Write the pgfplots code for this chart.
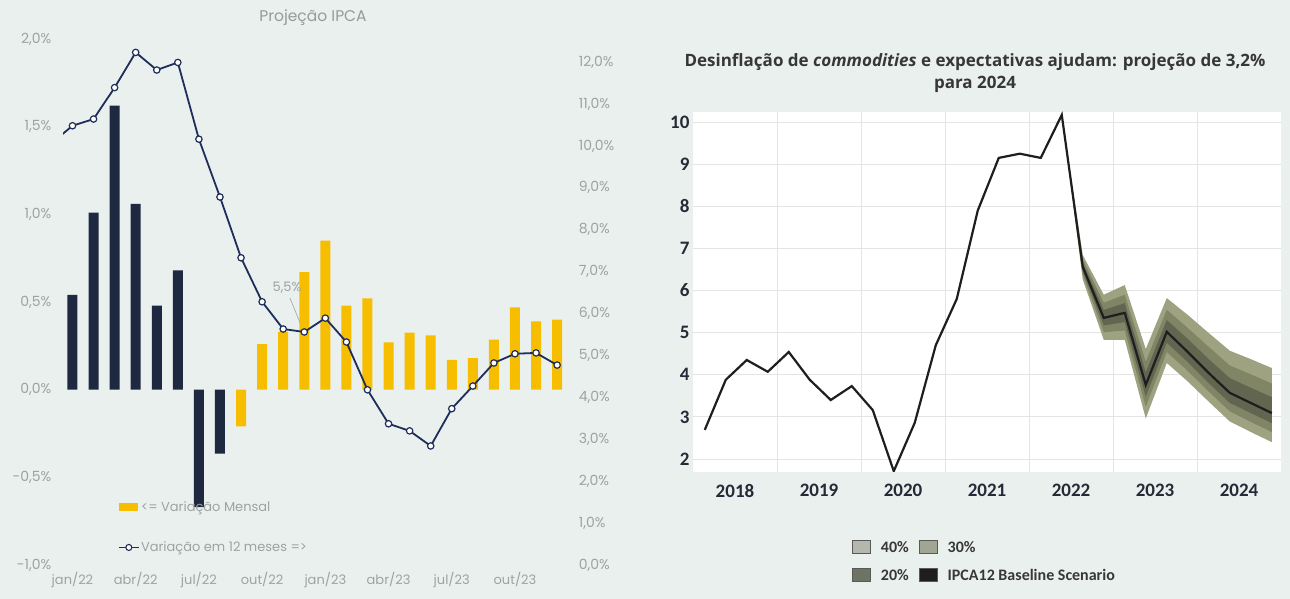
\documentclass[border=0pt]{standalone}
\usepackage{pgfplots}
\pgfplotsset{compat=1.18}
\usepackage{pgfplotstable}
\usepackage{fontspec}
\setmainfont{Poppins}
\newfontfamily\carlito{Carlito}
\newfontfamily\opensans{Open Sans}

\definecolor{bg}{RGB}{234,240,237}
\definecolor{navybar}{RGB}{30,40,65}
\definecolor{yel}{RGB}{247,190,0}
\definecolor{navyline}{RGB}{30,45,90}
\definecolor{tickgray}{RGB}{160,162,160}
\definecolor{c40}{RGB}{158,162,128}
\definecolor{c30}{RGB}{128,133,102}
\definecolor{c20}{RGB}{98,102,80}
\definecolor{lg40}{RGB}{180,183,172}
\definecolor{lg30}{RGB}{160,165,148}
\definecolor{lg20}{RGB}{110,116,100}
\definecolor{lgline}{RGB}{30,30,30}
\definecolor{gridc}{RGB}{226,230,226}
\definecolor{titlec}{RGB}{55,55,55}
\definecolor{darktick}{RGB}{40,40,55}

\pgfplotstableread{
x y
0 0.54
1 1.01
2 1.62
3 1.06
4 0.48
5 0.68
6 -0.67
7 -0.365
}\mensalA
\pgfplotstableread{
x y
8 -0.21
9 0.26
10 0.33
11 0.67
12 0.85
13 0.48
14 0.52
15 0.27
16 0.325
17 0.31
18 0.17
19 0.18
20 0.285
21 0.47
22 0.39
23 0.40
}\mensalB
\pgfplotstableread{
x y
-1 10.06
0 10.48
1 10.64
2 11.39
3 12.23
4 11.81
5 11.99
6 10.16
7 8.78
8 7.33
9 6.28
10 5.63
11 5.56
12 5.89
13 5.32
14 4.18
15 3.37
16 3.20
17 2.84
18 3.73
19 4.27
20 4.82
21 5.04
22 5.06
23 4.77
}\doze
\pgfplotstableread{
x y
2018.14 2.69
2018.39 3.88
2018.64 4.35
2018.89 4.07
2019.14 4.54
2019.39 3.88
2019.64 3.40
2019.89 3.73
2020.14 3.16
2020.39 1.71
2020.64 2.86
2020.89 4.70
2021.14 5.80
2021.39 7.90
2021.64 9.15
2021.89 9.25
2022.14 9.15
2022.39 10.17
2022.64 6.56
2022.89 5.35
2023.14 5.47
2023.39 3.76
2023.64 5.02
2023.89 4.54
2024.14 4.04
2024.39 3.57
2024.64 3.33
2024.89 3.09
}\ipca
% fan bands: upper bound forward, then lower bound back
\pgfplotstableread{
x y
2022.39 10.17
2022.64 6.84
2022.89 5.90
2023.14 6.13
2023.39 4.61
2023.64 5.82
2023.89 5.42
2024.14 4.99
2024.39 4.57
2024.64 4.37
2024.89 4.16
2024.89 2.40
2024.64 2.64
2024.39 2.89
2024.14 3.36
2023.89 3.84
2023.64 4.28
2023.39 2.96
2023.14 4.83
2022.89 4.83
2022.64 6.26
}\fanA
\pgfplotstableread{
x y
2022.39 10.17
2022.64 6.74
2022.89 5.71
2023.14 5.90
2023.39 4.31
2023.64 5.54
2023.89 5.11
2024.14 4.66
2024.39 4.22
2024.64 4.01
2024.89 3.79
2024.89 2.64
2024.64 2.88
2024.39 3.13
2024.14 3.60
2023.89 4.09
2023.64 4.54
2023.39 3.24
2023.14 5.05
2022.89 5.01
2022.64 6.37
}\fanB
\pgfplotstableread{
x y
2022.39 10.17
2022.64 6.66
2022.89 5.54
2023.14 5.70
2023.39 4.06
2023.64 5.30
2023.89 4.85
2024.14 4.37
2024.39 3.92
2024.64 3.69
2024.89 3.47
2024.89 2.85
2024.64 3.09
2024.39 3.33
2024.14 3.80
2023.89 4.30
2023.64 4.76
2023.39 3.48
2023.14 5.25
2022.89 5.17
2022.64 6.46
}\fanC

\begin{document}
\begin{tikzpicture}
\useasboundingbox (0pt,0pt) rectangle (1290pt,599pt);
\fill[bg] (0pt,0pt) rectangle (1290pt,599pt);

% ---------- left chart: monthly bars ----------
\begin{axis}[
  at={(63pt,34pt)}, anchor=south west,
  scale only axis, width=503.6pt, height=526pt,
  xmin=-0.45, xmax=23.45, ymin=-1, ymax=2,
  axis line style={draw=none}, tick style={draw=none},
  xtick={0,3,6,9,12,15,18,21},
  xticklabels={jan/22,abr/22,jul/22,out/22,jan/23,abr/23,jul/23,out/23},
  ytick={-1,-0.5,0,0.5,1,1.5,2},
  yticklabels={{-1,0\%},{-0,5\%},{0,0\%},{0,5\%},{1,0\%},{1,5\%},{2,0\%}},
  ticklabel style={text=tickgray},
  yticklabel style={font=\fontsize{14}{16}\selectfont, xshift=-8.2pt},
  xticklabel style={font=\fontsize{13}{15}\selectfont, yshift=-4pt},
]
\addplot[ybar, bar width=10pt, bar shift=0pt, fill=navybar, draw=none] table {\mensalA};
\addplot[ybar, bar width=10pt, bar shift=0pt, fill=yel, draw=none] table {\mensalB};
\end{axis}

% ---------- left chart: 12-month line ----------
\begin{axis}[
  at={(63pt,34pt)}, anchor=south west,
  scale only axis, width=503.6pt, height=526pt,
  xmin=-0.45, xmax=23.45, ymin=0, ymax=12.55,
  axis line style={draw=none}, tick style={draw=none},
  xtick=\empty,
  yticklabel pos=right,
  ytick={0,1,2,3,4,5,6,7,8,9,10,11,12},
  yticklabels={{0,0\%},{1,0\%},{2,0\%},{3,0\%},{4,0\%},{5,0\%},{6,0\%},{7,0\%},{8,0\%},{9,0\%},{10,0\%},{11,0\%},{12,0\%}},
  ticklabel style={font=\fontsize{14}{16}\selectfont, text=tickgray},
  yticklabel style={xshift=8.7pt},
  legend style={at={(0.103,0.128)}, anchor=north west, draw=none, fill=none,
    font=\fontsize{13}{15}\selectfont, text=tickgray, row sep=26pt,
    nodes={inner sep=1.5pt}},
  legend cell align=left,
]
\addlegendimage{legend image code/.code={\fill[yel] (0pt,-3.5pt) rectangle (18pt,3.5pt);}}
\addlegendentry{<= Variação Mensal}
\addlegendimage{legend image code/.code={\draw[navyline, line width=1.5pt] (0pt,0pt) -- (20pt,0pt); \draw[navyline, fill=white, line width=1.1pt] (10pt,0pt) circle (3pt);}}
\addlegendentry{Variação em 12 meses =>}
\addplot[navyline, line width=1.8pt, forget plot] table {\doze};
\addplot[only marks, mark=*, mark size=3.2pt, restrict x to domain=0:23,
  mark options={fill=white, draw=navyline, line width=1.2pt}, forget plot] table {\doze};
\node[font=\fontsize{13}{15}\selectfont, text=tickgray] at (axis cs:10.18,6.61) {5,5\%};
\draw[tickgray, line width=0.6pt] (axis cs:10.32,6.37) -- (axis cs:10.8,5.78);
\end{axis}

\node[font=\fontsize{15.5}{18}\selectfont, text=tickgray!95!black] at (313pt,581pt) {Projeção IPCA};

% ---------- right chart ----------
\begin{axis}[
  at={(693pt,127pt)}, anchor=south west,
  scale only axis, width=588pt, height=360pt,
  xmin=2018, xmax=2025, ymin=1.69, ymax=10.24,
  axis background/.style={fill=white},
  axis line style={draw=none}, tick style={draw=none},
  xtick={2018.5,2019.5,2020.5,2021.5,2022.5,2023.5,2024.5},
  xticklabels={2018,2019,2020,2021,2022,2023,2024},
  minor xtick={2019,2020,2021,2022,2023,2024},
  xminorgrids, ymajorgrids,
  ytick={2,3,4,5,6,7,8,9,10},
  yticklabels={2,3,4,5,6,7,8,9,10},
  grid style={gridc, line width=0.8pt},
  minor grid style={gridc, line width=0.8pt},
  ticklabel style={font=\carlito\bfseries\fontsize{19}{22}\selectfont, text=darktick},
  xticklabel style={yshift=-9pt},
  legend columns=2,
  legend cell align=left,
  legend style={at={(0.265,-0.18)}, anchor=north west, draw=none, fill=none,
    font=\carlito\bfseries\fontsize{16}{18}\selectfont, text=titlec,
    column sep=7pt, row sep=12pt, nodes={inner xsep=3pt}},
  legend image code/.code={\draw[#1, draw=black!65, line width=0.9pt] (0pt,-6pt) rectangle (18pt,7pt);},
]
\addlegendimage{fill=lg40}
\addlegendentry{40\%}
\addlegendimage{fill=lg30}
\addlegendentry{30\%}
\addlegendimage{fill=lg20}
\addlegendentry{20\%}
\addlegendimage{fill=lgline}
\addlegendentry{IPCA12 Baseline Scenario}
\addplot[fill=c40, draw=none, forget plot] table {\fanA};
\addplot[fill=c30, draw=none, forget plot] table {\fanB};
\addplot[fill=c20, draw=none, forget plot] table {\fanC};
\addplot[lgline, line width=2.2pt, forget plot] table {\ipca};
\end{axis}

\node[font=\opensans\bfseries\fontsize{17}{20}\selectfont, text=titlec] at (975pt,537pt) {Desinflação de \textit{commodities} e expectativas ajudam: projeção de 3,2\%};
\node[font=\opensans\bfseries\fontsize{17}{20}\selectfont, text=titlec] at (975pt,515pt) {para 2024};
\end{tikzpicture}
\end{document}
